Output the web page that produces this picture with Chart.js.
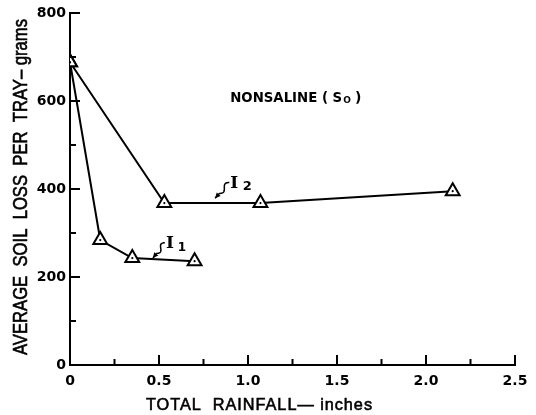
<!DOCTYPE html>
<html><head><meta charset="utf-8">
<script src="https://cdn.jsdelivr.net/npm/chart.js@4/dist/chart.umd.min.js"></script>
<style>html,body{margin:0;padding:0;background:#fff}#wrap{width:536px;height:415px}</style>
</head><body><div id="wrap"><canvas id="c" width="536" height="415"></canvas></div>
<script>
const i1Rain = [0, 0.17, 0.35, 0.70];
const i1Loss = [688, 284, 243, 236];
const i2Rain = [0, 0.53, 1.07, 2.15];
const i2Loss = [688, 368, 368, 395];
const xTickValues = [0, 0.5, 1.0, 1.5, 2.0, 2.5];
const xMinorTicks = [0.25, 0.75, 1.25, 1.75, 2.25];
const yTickValues = [0, 200, 400, 600, 800];
const yMinorTicks = [100, 300, 500, 700];
const xTitle = 'TOTAL  RAINFALL\u2014 inches';
const yTitle = 'AVERAGE  SOIL  LOSS  PER  TRAY\u2013 grams';

function pts(xs, ys){ return xs.map((x,i)=>({x:x, y:ys[i]})); }

const ds = (label, xs, ys) => ({
  label, data: pts(xs, ys), showLine: true,
  borderColor: '#000', borderWidth: 2,
  pointStyle: 'triangle', pointRadius: 8, pointHoverRadius: 8,
  pointBorderWidth: 2, pointBorderColor: '#000', pointBackgroundColor: '#fff',
  tension: 0, fill: false
});

function squiggle(ctx, x0, y0, x1, y1){
  const dx = x1-x0, dy = y1-y0, len = Math.hypot(dx,dy);
  const ux = dx/len, uy = dy/len, nx = -uy, ny = ux;
  ctx.beginPath();
  const steps = 30;
  for (let s=0; s<=steps; s++){
    const t = s/steps*0.7;
    const a = 2.2*Math.sin(t/0.7*Math.PI*2);
    const px = x0 + ux*len*t + nx*a, py = y0 + uy*len*t + ny*a;
    if (s===0) ctx.moveTo(px,py); else ctx.lineTo(px,py);
  }
  ctx.lineTo(x1, y1);
  ctx.stroke();
  const hl = 6, ang = 0.45;
  const bx = -ux, by = -uy;
  ctx.beginPath();
  ctx.moveTo(x1, y1);
  ctx.lineTo(x1 + hl*(bx*Math.cos(ang) - by*Math.sin(ang)), y1 + hl*(bx*Math.sin(ang) + by*Math.cos(ang)));
  ctx.lineTo(x1 + hl*(bx*Math.cos(-ang) - by*Math.sin(-ang)), y1 + hl*(bx*Math.sin(-ang) + by*Math.cos(-ang)));
  ctx.closePath();
  ctx.fill();
}

const deco = {
  id: 'deco',
  afterDatasetsDraw(chart){
    const ctx = chart.ctx;
    ctx.save();
    ctx.fillStyle = '#000';
    chart.data.datasets.forEach((d, i) => {
      chart.getDatasetMeta(i).data.forEach(el => {
        ctx.beginPath(); ctx.arc(el.x, el.y, 1.1, 0, Math.PI*2); ctx.fill();
      });
    });
    ctx.restore();
  },
  afterDraw(chart){
    const ctx = chart.ctx;
    const xs = chart.scales.x, ys = chart.scales.y;
    const X = v => xs.getPixelForValue(v), Y = v => ys.getPixelForValue(v);
    const left = chart.chartArea.left, bottom = chart.chartArea.bottom;
    ctx.save();
    ctx.strokeStyle = '#000'; ctx.fillStyle = '#000'; ctx.lineWidth = 2;
    // tick marks (inside)
    ctx.beginPath();
    yTickValues.forEach(v => { ctx.moveTo(left, Y(v)); ctx.lineTo(left + 10, Y(v)); });
    yMinorTicks.forEach(v => { ctx.moveTo(left, Y(v)); ctx.lineTo(left + 6, Y(v)); });
    xTickValues.forEach(v => { ctx.moveTo(X(v), bottom); ctx.lineTo(X(v), bottom - 10); });
    xMinorTicks.forEach(v => { ctx.moveTo(X(v), bottom); ctx.lineTo(X(v), bottom - 6); });
    ctx.stroke();

    // axis titles
    ctx.textAlign = 'left'; ctx.textBaseline = 'alphabetic';
    ctx.lineWidth = 0.6;
    ctx.font = '17px "Liberation Sans", Arial, sans-serif';
    try { ctx.letterSpacing = '1px'; } catch(e) {}
    ctx.fillText(xTitle, 146, 410, 227);
    ctx.strokeText(xTitle, 146, 410, 227);
    try { ctx.letterSpacing = '0px'; } catch(e) {}
    ctx.save();
    ctx.translate(27, 355);
    ctx.rotate(-Math.PI/2);
    ctx.font = '20px "Liberation Sans", Arial, sans-serif';
    ctx.fillText(yTitle, 0, 0, 336);
    ctx.strokeText(yTitle, 0, 0, 336);
    ctx.restore();

    // NONSALINE label
    ctx.font = 'bold 14px "DejaVu Sans", sans-serif';
    let px = X(0.9), py = Y(609) + 5;
    ctx.fillText('NONSALINE ( S', px, py, 112);
    let w = Math.min(ctx.measureText('NONSALINE ( S').width, 112);
    ctx.font = 'bold 9px "DejaVu Sans", sans-serif';
    ctx.fillText('O', px + w + 1, py + 1);
    ctx.font = 'bold 14px "DejaVu Sans", sans-serif';
    ctx.fillText(' )', px + w + 8, py);

    // I2 label
    ctx.font = 'bold 17px "DejaVu Serif", serif';
    ctx.fillText('I', X(0.9), Y(403));
    ctx.font = 'bold 13px "DejaVu Sans", sans-serif';
    ctx.fillText('2', X(0.97), Y(397));
    ctx.lineWidth = 1.5;
    squiggle(ctx, X(0.895), Y(415), X(0.815), Y(379));

    // I1 label
    ctx.font = 'bold 17px "DejaVu Serif", serif';
    ctx.fillText('I', X(0.54), Y(266));
    ctx.font = 'bold 12px "DejaVu Sans", sans-serif';
    ctx.fillText('1', X(0.605), Y(259));
    squiggle(ctx, X(0.533), Y(278), X(0.466), Y(243));
    ctx.restore();
  }
};

new Chart(document.getElementById('c'), {
  type: 'scatter',
  data: { datasets: [ ds('I1', i1Rain, i1Loss), ds('I2', i2Rain, i2Loss) ] },
  options: {
    responsive: false, animation: false, devicePixelRatio: 1,
    layout: { padding: { top: 13, right: 21, left: 0, bottom: 0 } },
    plugins: { legend: { display: false }, tooltip: { enabled: false } },
    scales: {
      x: {
        type: 'linear', min: 0, max: 2.5,
        afterFit: s => { s.height = 50; },
        afterBuildTicks: s => { s.ticks = xTickValues.map(v => ({value: v})); },
        grid: { display: false, drawTicks: false },
        border: { display: true, color: '#000', width: 2 },
        ticks: { color: '#000', padding: 8, maxRotation: 0, autoSkip: false,
          font: { family: '"DejaVu Sans"', size: 14, weight: 'bold' },
          callback: v => v === 0 ? '0' : Number(v).toFixed(1) }
      },
      y: {
        type: 'linear', min: 0, max: 800,
        afterFit: s => { s.width = 70; },
        afterBuildTicks: s => { s.ticks = yTickValues.map(v => ({value: v})); },
        grid: { display: false, drawTicks: false },
        border: { display: true, color: '#000', width: 2 },
        ticks: { color: '#000', padding: 4, autoSkip: false,
          font: { family: '"DejaVu Sans"', size: 14, weight: 'bold' },
          callback: v => String(v) }
      }
    }
  },
  plugins: [deco]
});
</script>
</body></html>
